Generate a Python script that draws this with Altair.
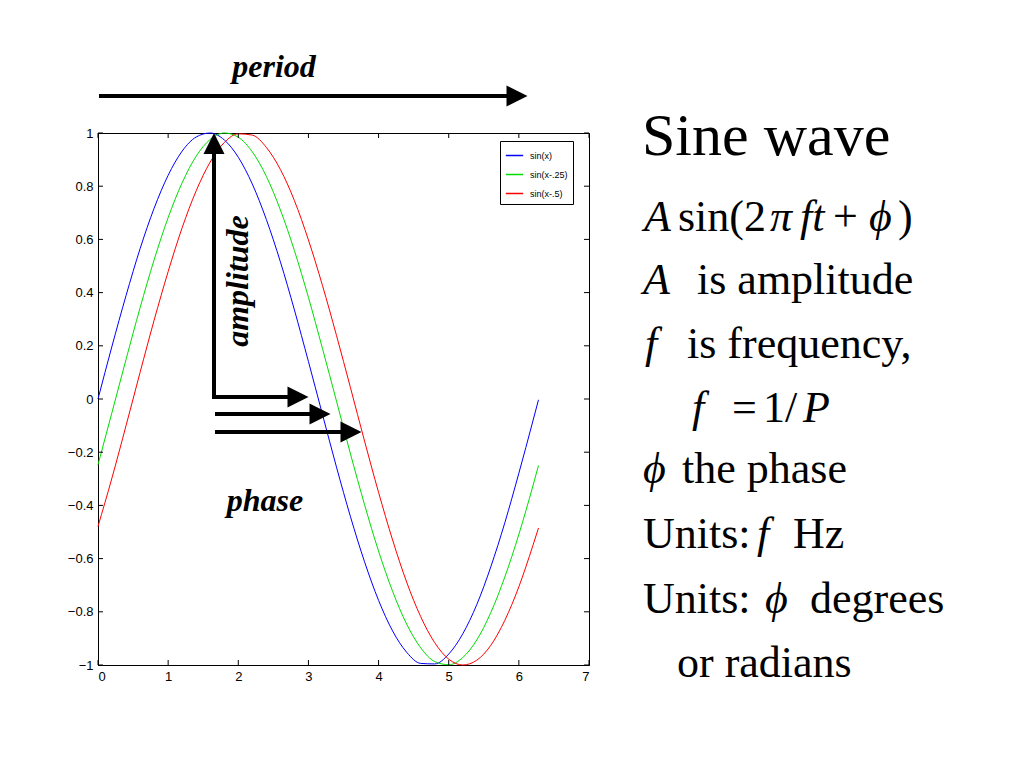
import altair as alt
import pandas as pd

# ---- data ----
x_vals = [0.0, 0.2, 0.4, 0.6, 0.8, 1.0, 1.2, 1.4, 1.6, 1.8, 2.0, 2.2, 2.4, 2.6, 2.8, 3.0,
          3.2, 3.4, 3.6, 3.8, 4.0, 4.2, 4.4, 4.6, 4.8, 5.0, 5.2, 5.4, 5.6, 5.8, 6.0, 6.2, 6.28]
sin_x = [0.0, 0.199, 0.389, 0.565, 0.717, 0.841, 0.932, 0.985, 1.0, 0.974, 0.909, 0.808,
         0.675, 0.516, 0.335, 0.141, -0.058, -0.256, -0.443, -0.612, -0.757, -0.872,
         -0.952, -0.994, -0.996, -0.959, -0.883, -0.773, -0.631, -0.465, -0.279, -0.083, -0.003]
sin_x25 = [-0.247, -0.050, 0.149, 0.343, 0.523, 0.682, 0.813, 0.913, 0.976, 1.0, 0.984, 0.929,
           0.837, 0.711, 0.558, 0.382, 0.190, -0.008, -0.207, -0.397, -0.572, -0.723,
           -0.846, -0.935, -0.987, -0.999, -0.972, -0.906, -0.803, -0.669, -0.509, -0.327, -0.250]
sin_x5 = [-0.479, -0.296, -0.100, 0.100, 0.296, 0.479, 0.644, 0.783, 0.891, 0.964, 0.997, 0.992,
          0.946, 0.863, 0.746, 0.598, 0.427, 0.239, 0.042, -0.158, -0.351, -0.530,
          -0.688, -0.818, -0.916, -0.978, -1.0, -0.982, -0.926, -0.832, -0.706, -0.551, -0.485]
series_names = ["sin(x)", "sin(x-.25)", "sin(x-.5)"]
series_colors = ["#0000ff", "#00dd00", "#ff0000"]
x_ticks = [0, 1, 2, 3, 4, 5, 6, 7]
y_ticks = [-1, -0.8, -0.6, -0.4, -0.2, 0, 0.2, 0.4, 0.6, 0.8, 1]

# ---- layout ----
W, H = 491, 532
OX, OY = 98, 133  # page position of plot origin

rows = []
for name, vals in zip(series_names, [sin_x, sin_x25, sin_x5]):
    for xv, yv in zip(x_vals, vals):
        rows.append({"x": xv, "y": yv, "series": name})
df = pd.DataFrame(rows)

xscale = alt.Scale(domain=[0, 7], nice=False, zero=False)
yscale = alt.Scale(domain=[-1, 1], nice=False, zero=False)
xaxis = alt.Axis(values=x_ticks, title=None, ticks=False, labelPadding=5, grid=False,
                 labelFont="Liberation Sans", labelFontSize=13, labelColor="black")
yaxis = alt.Axis(values=y_ticks, title=None, ticks=False, labelPadding=5, format="~g", grid=False,
                 labelFont="Liberation Sans", labelFontSize=13, labelColor="black")
X = alt.X("x:Q", scale=xscale, axis=xaxis)
Y = alt.Y("y:Q", scale=yscale, axis=yaxis)

lines = alt.Chart(df).mark_line(strokeWidth=1, interpolate="monotone").encode(
    x=X, y=Y,
    color=alt.Color("series:N", sort=series_names,
                    scale=alt.Scale(domain=series_names, range=series_colors),
                    legend=alt.Legend(title=None, orient="none", legendX=402, legendY=8,
                                      strokeColor="black", fillColor="white", padding=5,
                                      labelFont="Liberation Sans", labelFontSize=9,
                                      labelColor="black", symbolType="stroke",
                                      symbolSize=300, symbolStrokeWidth=1.5, rowPadding=4,
                                      labelOffset=6)),
)

xt = pd.DataFrame({"x": x_ticks})
yt = pd.DataFrame({"y": y_ticks})
tick_b = alt.Chart(xt).mark_rule(color="black", strokeWidth=1).encode(x=X, y=alt.value(H), y2=alt.value(H - 5))
tick_t = alt.Chart(xt).mark_rule(color="black", strokeWidth=1).encode(x=X, y=alt.value(0), y2=alt.value(5))
tick_l = alt.Chart(yt).mark_rule(color="black", strokeWidth=1).encode(y=Y, x=alt.value(0), x2=alt.value(5))
tick_r = alt.Chart(yt).mark_rule(color="black", strokeWidth=1).encode(y=Y, x=alt.value(W), x2=alt.value(W - 5))

one = pd.DataFrame({"k": [0]})


def txt(s, px, py, size, style="normal", weight="normal", angle=0, align="left",
        font="Liberation Serif"):
    return alt.Chart(one).mark_text(text=s, font=font, fontSize=size, fontStyle=style,
                                    fontWeight=weight, angle=angle, align=align,
                                    baseline="alphabetic", color="black").encode(
        x=alt.value(px - OX), y=alt.value(py - OY))


def hline(x1, x2, py):
    return alt.Chart(one).mark_rule(color="black", strokeWidth=4).encode(
        x=alt.value(x1 - OX), x2=alt.value(x2 - OX), y=alt.value(py - OY))


def vline(px, y1, y2):
    return alt.Chart(one).mark_rule(color="black", strokeWidth=4).encode(
        x=alt.value(px - OX), y=alt.value(y1 - OY), y2=alt.value(y2 - OY))


RIGHT = "M-1,-1L1,0L-1,1Z"
UP = "M-1,1L0,-1L1,1Z"


def head(px, py, shape, size=441):
    return alt.Chart(one).mark_point(shape=shape, filled=True, size=size, color="black",
                                     opacity=1, strokeWidth=0).encode(
        x=alt.value(px - OX), y=alt.value(py - OY))


annots = [
    # period arrow
    hline(99, 512, 96), head(517, 96, RIGHT),
    txt("period", 274, 77, 32, "italic", "bold", align="center"),
    # amplitude arrow
    vline(214, 399, 150), head(214, 143.5, UP),
    txt("amplitude", 248, 281, 32, "italic", "bold", angle=270, align="center"),
    # phase arrows
    hline(212, 292, 397), head(298, 397, RIGHT),
    hline(215, 314, 414), head(320, 414, RIGHT),
    hline(215, 344, 432), head(351, 432, RIGHT),
    txt("phase", 265, 511, 32, "italic", "bold", align="center"),
    # right-hand text
    txt("Sine wave", 642, 155, 60),
    txt("A", 644, 231, 44, "italic"), txt("sin(2", 678, 231, 44),
    txt("π", 770, 231, 44, "italic"), txt("ft", 800, 231, 44, "italic"),
    txt("+", 833, 231, 44), txt("ϕ", 869, 231, 44, "italic"), txt(")", 898, 231, 44),
    txt("A", 643, 294, 44, "italic"), txt("is amplitude", 697, 294, 44),
    txt("f", 645, 358, 44, "italic"), txt("is frequency,", 687, 358, 44),
    txt("f", 692, 422, 44, "italic"), txt("=", 732, 422, 44), txt("1/", 763, 422, 44),
    txt("P", 803, 422, 44, "italic"),
    txt("ϕ", 643, 483, 44, "italic"), txt("the phase", 682, 483, 44),
    txt("Units:", 643, 548, 44), txt("f", 757, 548, 44, "italic"), txt("Hz", 793, 548, 44),
    txt("Units:", 643, 613, 44), txt("ϕ", 765, 613, 44, "italic"), txt("degrees", 810, 613, 44),
    txt("or radians", 677, 677, 44),
]

chart = alt.layer(lines, tick_b, tick_t, tick_l, tick_r, *annots).properties(
    width=W, height=H,
    autosize=alt.AutoSizeParams(type="none"),
    padding={"left": OX - 8, "top": OY - 8, "right": 1008 - (OX - 8) - W,
             "bottom": 752 - (OY - 8) - H},
    background="white",
).configure_view(stroke="black", strokeWidth=1).configure_axis(
    domainColor="black", domainWidth=1,
)

chart.save("out.html", embed_options={"renderer": "svg", "actions": False})
